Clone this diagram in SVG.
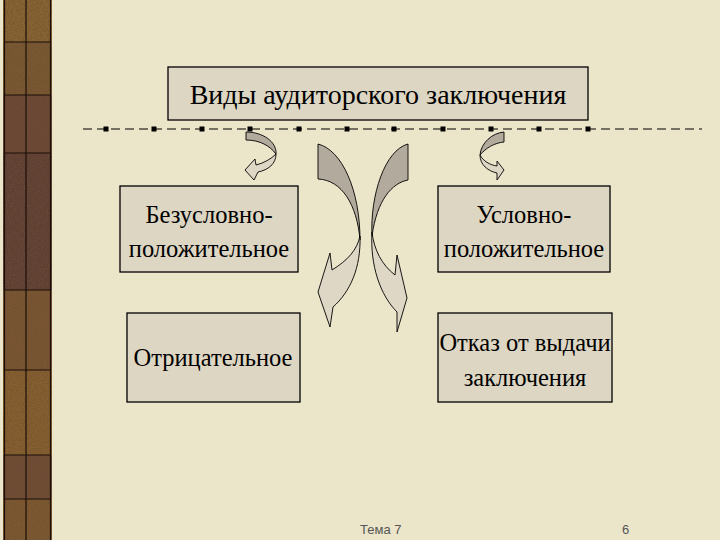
<svg xmlns="http://www.w3.org/2000/svg" width="720" height="540" viewBox="0 0 720 540">
<defs>
<style>
.box{fill:#DDD6C3;stroke:#000;stroke-width:1.3}
.t{font-family:"Liberation Serif","Times New Roman",serif;font-size:24.5px;fill:#000;text-anchor:middle}
.tt{font-family:"Liberation Serif","Times New Roman",serif;font-size:28px;fill:#000;text-anchor:middle}
.f{font-family:"Liberation Sans",Arial,sans-serif;font-size:13px;fill:#555}
.dk{fill:#B2AA9C;stroke:#000;stroke-width:0.9}
.lt{fill:#DED7C6;stroke:#000;stroke-width:0.9}
.sq{fill:#000}
.cell{stroke:#1a0f08;stroke-width:1.2}
</style>
<filter id="noise" x="0" y="0" width="100%" height="100%" filterUnits="objectBoundingBox">
<feTurbulence type="fractalNoise" baseFrequency="0.7" numOctaves="3" seed="3" result="n"/>
<feColorMatrix in="n" type="matrix" values="0 0 0 0 0.15  0 0 0 0 0.08  0 0 0 0 0.03  1.6 0 0 0 -0.55"/>
</filter>
</defs>
<rect width="720" height="540" fill="#EBE5C9"/>
<g id="strip">
<rect x="3" y="0" width="49" height="540" fill="#7E5A30"/>
<rect x="3" y="0" width="49" height="42" fill="#8A6532"/>
<rect x="3" y="42" width="49" height="53" fill="#7A5832"/>
<rect x="3" y="95" width="49" height="58" fill="#6A4636"/>
<rect x="3" y="153" width="49" height="137" fill="#5E3D35"/>
<rect x="3" y="290" width="49" height="80" fill="#7B5532"/>
<rect x="3" y="370" width="49" height="85" fill="#88602F"/>
<rect x="3" y="455" width="49" height="44" fill="#6E4A35"/>
<rect x="3" y="499" width="49" height="41" fill="#7E5830"/>
<rect x="3" y="0" width="49" height="540" fill="#fff" filter="url(#noise)"/>
<g class="cell">
<line x1="4.5" y1="0" x2="4.5" y2="540"/>
<line x1="26" y1="0" x2="26" y2="540"/>
<line x1="50.5" y1="0" x2="50.5" y2="540"/>
<line x1="4" y1="42" x2="51" y2="42"/>
<line x1="4" y1="95" x2="51" y2="95"/>
<line x1="4" y1="153" x2="51" y2="153"/>
<line x1="4" y1="290" x2="51" y2="290"/>
<line x1="4" y1="370" x2="51" y2="370"/>
<line x1="4" y1="455" x2="51" y2="455"/>
<line x1="4" y1="499" x2="51" y2="499"/>
</g>
</g>
<g id="divider">
<line x1="83" y1="129" x2="702" y2="129" stroke="#000" stroke-width="1.2" stroke-dasharray="9 5"/>
<rect class="sq" x="103.5" y="126.5" width="5" height="5"/>
<rect class="sq" x="151.5" y="126.5" width="5" height="5"/>
<rect class="sq" x="199.5" y="126.5" width="5" height="5"/>
<rect class="sq" x="247.5" y="126.5" width="5" height="5"/>
<rect class="sq" x="296.5" y="126.5" width="5" height="5"/>
<rect class="sq" x="344.5" y="126.5" width="5" height="5"/>
<rect class="sq" x="391.5" y="126.5" width="5" height="5"/>
<rect class="sq" x="440.5" y="126.5" width="5" height="5"/>
<rect class="sq" x="488.5" y="126.5" width="5" height="5"/>
<rect class="sq" x="536.5" y="126.5" width="5" height="5"/>
<rect class="sq" x="585.5" y="126.5" width="5" height="5"/>
</g>
<g id="connectors">
<path class="dk" d="M246,132 C263,132 277,142 276,154 C270,146 260,140 246,140 Z"/>
<path class="lt" d="M276,154 C276,164 268,170 258,172 L254,180 L245,170 L255,159 L256,165 C264,163 271,159 276,154 Z"/>
<path class="dk" d="M504,132 L504,142 C494,143 486,148 480,155 C481,143 492,133 504,132 Z"/>
<path class="lt" d="M480,155 C480,165 488,171 497,173 L497,180 L504,170 L497,161 L497,166 C490,165 483,161 480,155 Z"/>
<path class="dk" d="M318,144 C342,150 360,190 360,240 C357,205 342,180 318,179 Z"/>
<path class="lt" d="M360,236 C361,268 350,292 333,307 L330,327 L318,292 L330,253 L332,270 C348,260 357,250 360,236 Z"/>
<path class="dk" d="M408,144 L408,180 C392,183 377,200 372,236 C370,195 385,150 408,144 Z"/>
<path class="lt" d="M372,232 C370,265 380,295 397,312 L397,332 L407,298 L397,255 L395,275 C382,265 374,250 372,232 Z"/>
</g>
<g id="title">
<rect class="box" x="168" y="67" width="420" height="53"/>
<text class="tt" x="378" y="104">Виды аудиторского заключения</text>
</g>
<g id="unconditional">
<rect class="box" x="120" y="186" width="178" height="86"/>
<text class="t" x="209" y="223">Безусловно-</text>
<text class="t" x="209" y="257">положительное</text>
</g>
<g id="conditional">
<rect class="box" x="438" y="186" width="172" height="86"/>
<text class="t" x="524" y="223">Условно-</text>
<text class="t" x="524" y="257">положительное</text>
</g>
<g id="negative">
<rect class="box" x="127" y="313" width="173" height="89"/>
<text class="t" x="213" y="366">Отрицательное</text>
</g>
<g id="refusal">
<rect class="box" x="438" y="313" width="174" height="89"/>
<text class="t" x="525" y="351">Отказ от выдачи</text>
<text class="t" x="525" y="386">заключения</text>
</g>
<g id="footer">
<text class="f" x="360" y="534">Тема 7</text>
<text class="f" x="622" y="534">6</text>
</g>
</svg>
